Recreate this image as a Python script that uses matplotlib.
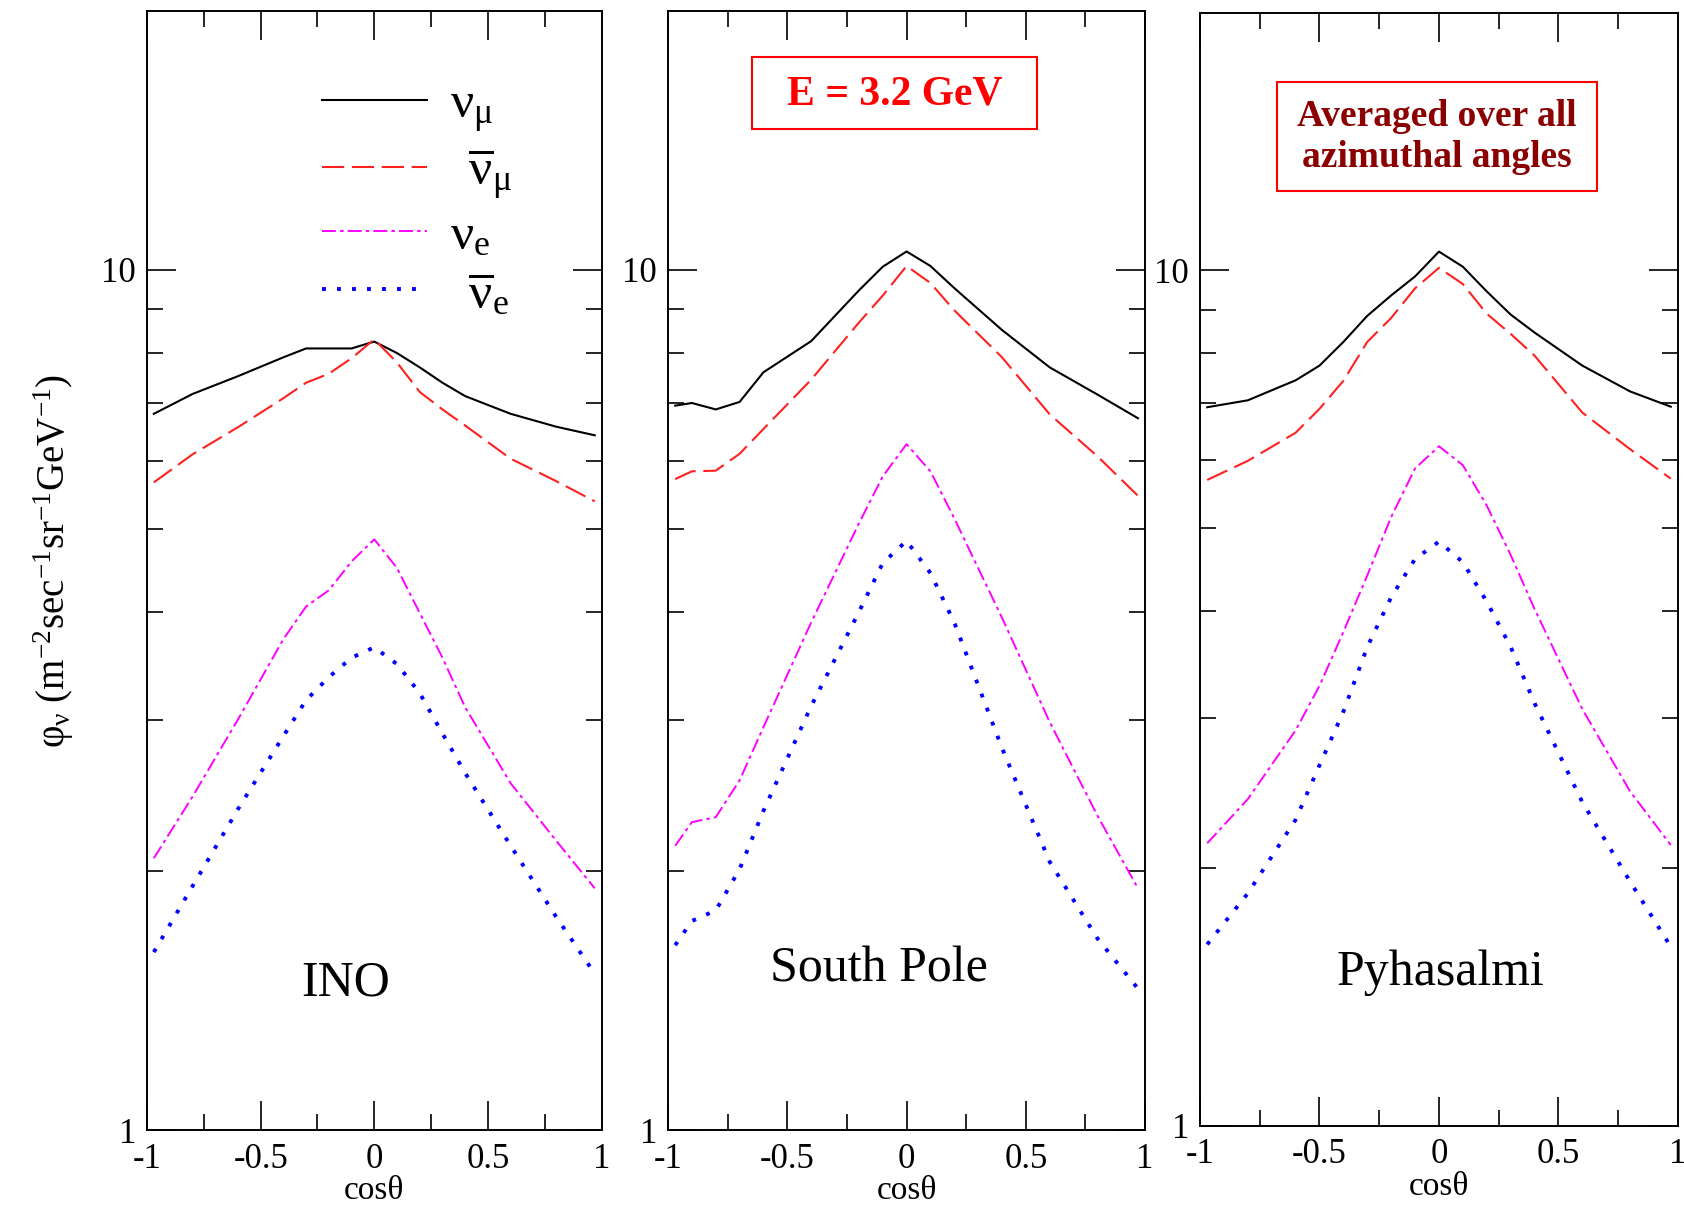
import matplotlib
matplotlib.use("Agg")
import matplotlib.pyplot as plt
from matplotlib.patches import Rectangle
from matplotlib.ticker import FixedLocator, FuncFormatter, NullFormatter

plt.rcParams["font.family"] = ["Liberation Serif", "DejaVu Serif"]
plt.rcParams["mathtext.fontset"] = "custom"
plt.rcParams["mathtext.rm"] = "Liberation Serif"
plt.rcParams["mathtext.it"] = "Liberation Serif:italic"
plt.rcParams["mathtext.bf"] = "Liberation Serif:bold"
plt.rcParams["axes.unicode_minus"] = False
plt.rcParams["lines.scale_dashes"] = False

# zenith-angle flux at E = 3.2 GeV, three detector sites
COS_INO = [-0.97, -0.8, -0.6, -0.4, -0.3, -0.2, -0.1, 0.0, 0.1, 0.2, 0.3, 0.4, 0.6, 0.8, 0.97]
INO_NUMU = [6.80, 7.17, 7.52, 7.91, 8.10, 8.10, 8.10, 8.25, 8.00, 7.70, 7.39, 7.13, 6.80, 6.57, 6.42]
INO_NUMUBAR = [5.66, 6.10, 6.56, 7.09, 7.39, 7.57, 7.89, 8.30, 7.80, 7.21, 6.88, 6.59, 6.03, 5.68, 5.38]
INO_NUE = [2.07, 2.44, 3.00, 3.72, 4.06, 4.24, 4.58, 4.86, 4.50, 3.99, 3.54, 3.10, 2.53, 2.17, 1.91]
INO_NUEBAR = [1.61, 1.92, 2.36, 2.87, 3.16, 3.36, 3.54, 3.64, 3.48, 3.22, 2.89, 2.60, 2.14, 1.77, 1.52]

COS_SP = [-0.97, -0.9, -0.8, -0.7, -0.6, -0.4, -0.2, -0.1, 0.0, 0.1, 0.2, 0.4, 0.6, 0.8, 0.97]
SP_NUMU = [6.95, 7.00, 6.88, 7.02, 7.60, 8.26, 9.46, 10.08, 10.50, 10.10, 9.52, 8.51, 7.70, 7.16, 6.72]
SP_NUMUBAR = [5.71, 5.83, 5.84, 6.11, 6.53, 7.45, 8.68, 9.33, 10.10, 9.65, 8.97, 7.91, 6.79, 6.07, 5.46]
SP_NUE = [2.14, 2.28, 2.31, 2.55, 2.94, 3.89, 5.07, 5.75, 6.27, 5.83, 5.14, 3.94, 2.98, 2.32, 1.91]
SP_NUEBAR = [1.64, 1.75, 1.80, 2.01, 2.35, 3.11, 4.00, 4.56, 4.84, 4.44, 3.89, 2.78, 2.05, 1.67, 1.46]

COS_PY = [-0.97, -0.8, -0.6, -0.5, -0.4, -0.3, -0.2, -0.1, 0.0, 0.1, 0.2, 0.3, 0.4, 0.6, 0.8, 0.97]
PY_NUMU = [6.92, 7.05, 7.44, 7.74, 8.25, 8.85, 9.35, 9.84, 10.52, 10.10, 9.45, 8.88, 8.46, 7.74, 7.22, 6.93]
PY_NUMUBAR = [5.69, 5.99, 6.46, 6.89, 7.43, 8.25, 8.80, 9.53, 10.07, 9.64, 8.90, 8.43, 7.95, 6.82, 6.18, 5.71]
PY_NUE = [2.14, 2.41, 2.90, 3.27, 3.78, 4.40, 5.15, 5.87, 6.23, 5.92, 5.31, 4.65, 4.02, 3.07, 2.46, 2.13]
PY_NUEBAR = [1.63, 1.87, 2.28, 2.64, 3.05, 3.63, 4.15, 4.60, 4.82, 4.56, 4.10, 3.63, 3.12, 2.39, 1.93, 1.62]

SITES = ["INO", "South Pole", "Pyhasalmi"]
LABELS = [r"$\mathrm{ν}_{\mathrm{μ}}$", r"$\ \,\overline{\mathrm{ν}}_{\mathrm{μ}}$",
          r"$\mathrm{ν}_{\mathrm{e}}$", r"$\ \,\overline{\mathrm{ν}}_{\mathrm{e}}$"]

PANELS = [
    (COS_INO, [INO_NUMU, INO_NUMUBAR, INO_NUE, INO_NUEBAR]),
    (COS_SP, [SP_NUMU, SP_NUMUBAR, SP_NUE, SP_NUEBAR]),
    (COS_PY, [PY_NUMU, PY_NUMUBAR, PY_NUE, PY_NUEBAR]),
]

STYLES = [
    dict(color="black", lw=1.5, ls="-"),
    dict(color="#ff2020", lw=1.5, dashes=(16, 5.5)),
    dict(color="#ff00ff", lw=1.4, dashes=(10, 3, 2.5, 3)),
    dict(color="#0000ff", lw=2.8, dashes=(2.8, 8.0)),
]

# axes boxes in figure fractions
POS = [
    [0.0873, 0.0622, 0.2699, 0.9289],
    [0.3967, 0.0622, 0.2833, 0.9289],
    [0.7126, 0.0656, 0.2838, 0.9237],
]
SITE_XY = [(0.438, 0.131), (0.442, 0.144), (0.504, 0.138)]

fig = plt.figure(figsize=(16.84, 12.05), dpi=100)
axes = []
for i, (cos, series) in enumerate(PANELS):
    ax = fig.add_axes(POS[i])
    axes.append(ax)
    lines = []
    for ys, st in zip(series, STYLES):
        ln, = ax.plot(cos, ys, **st)
        lines.append(ln)
    ax.set_yscale("log")
    ax.set_xlim(-1, 1)
    ax.set_ylim(1, 20)
    ax.xaxis.set_major_locator(FixedLocator([-1, -0.5, 0, 0.5, 1]))
    ax.xaxis.set_minor_locator(FixedLocator([-0.75, -0.25, 0.25, 0.75]))
    ax.yaxis.set_major_locator(FixedLocator([1, 10]))
    ax.yaxis.set_minor_locator(FixedLocator([2, 3, 4, 5, 6, 7, 8, 9]))
    fmt = FuncFormatter(lambda v, _: f"{v:g}")
    ax.xaxis.set_major_formatter(fmt)
    ax.yaxis.set_major_formatter(fmt)
    ax.yaxis.set_minor_formatter(NullFormatter())
    ax.tick_params(which="both", direction="in", top=True, right=True,
                   labelsize=25, width=1.2)
    ax.tick_params(axis="x", pad=9)
    ax.tick_params(axis="y", pad=8)
    ax.tick_params(which="major", length=21)
    ax.tick_params(which="minor", length=11.5)
    for sp in ax.spines.values():
        sp.set_linewidth(1.4)
    ax.set_xlabel("cosθ", fontsize=24, labelpad=0)
    ax.text(*SITE_XY[i], SITES[i], transform=ax.transAxes, fontsize=36,
            ha="center", va="center")
    if i == 0:
        ax.legend(lines, LABELS, loc="upper left", bbox_to_anchor=(0.385, 0.936),
                  frameon=False, fontsize=37, handlelength=2.05, handletextpad=0.45,
                  labelspacing=0.22, borderpad=0, borderaxespad=0)

# boxed notes
ax2 = axes[1]
ax2.add_patch(Rectangle((0.176, 0.894), 0.598, 0.0647, transform=ax2.transAxes,
                        fill=False, edgecolor="red", lw=1.5))
ax2.text(0.476, 0.925, "E = 3.2 GeV", transform=ax2.transAxes, color="red",
         fontsize=30, fontweight="bold", ha="center", va="center")

ax3 = axes[2]
ax3.add_patch(Rectangle((0.161, 0.840), 0.6695, 0.098, transform=ax3.transAxes,
                        fill=False, edgecolor="red", lw=1.5))
ax3.text(0.496, 0.8886, "Averaged over all\nazimuthal angles", transform=ax3.transAxes,
         color="#8b0000", fontsize=27, fontweight="bold", ha="center", va="center",
         linespacing=1.25)

fig.text(0.032, 0.5344,
         r"$\mathrm{φ}_{\mathrm{ν}}$ (m$^{-2}$sec$^{-1}$sr$^{-1}$GeV$^{-1}$)",
         rotation=90, fontsize=28, ha="center", va="center")

fig.savefig("out.png", dpi=100)
